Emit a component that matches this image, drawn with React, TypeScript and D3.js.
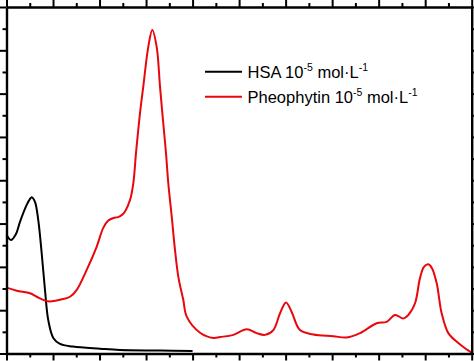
import React, { useEffect, useRef } from "react";
import * as d3 from "d3";

// wavelength (nm) / absorbance
const hsaWl = [250, 254.8, 260.2, 264.5, 271.7, 275.3, 277.1, 280.6, 284.2, 287.8, 291.4, 294.9, 300.3, 307.5, 321.5, 350.5, 372, 415, 450];
const hsaAbs = [2.74, 2.62, 2.76, 3.04, 3.43, 3.57, 3.61, 3.5, 3.07, 2.32, 1.46, 0.77, 0.36, 0.22, 0.16, 0.11, 0.08, 0.07, 0.06];

const pheoWl = [250, 261, 275.3, 282.5, 291.4, 296.8, 307.5, 318.2, 325.5, 336.2, 347, 354, 359.4, 365, 370, 374.1, 377.4, 382.7, 386.3, 389.2, 393.5, 397, 402.4, 406.7, 411.4, 415, 417.5, 421.4, 423.9, 427.6, 431.1, 434.7, 440, 443.7, 458, 472.3, 479.5, 493.8, 508.2, 518.9, 527.8, 536.8, 544, 550.4, 556.5, 565.4, 579.7, 601.2, 615.6, 629.9, 647.9, 658.6, 667.6, 676.5, 681.9, 689.1, 694.4, 698.7, 703.4, 707.3, 712.4, 717.7, 724.9, 735.6, 742.8, 750];
const pheoAbs = [1.52, 1.45, 1.39, 1.31, 1.22, 1.2, 1.24, 1.31, 1.47, 1.93, 2.47, 2.9, 3.07, 3.13, 3.15, 3.2, 3.28, 3.54, 3.93, 4.63, 5.55, 6.16, 7.08, 7.47, 7.08, 6.16, 5.55, 4.63, 3.93, 3.16, 2.39, 1.77, 1.24, 0.85, 0.48, 0.36, 0.38, 0.43, 0.56, 0.47, 0.43, 0.54, 0.93, 1.18, 0.96, 0.54, 0.44, 0.4, 0.37, 0.47, 0.7, 0.73, 0.89, 0.81, 0.89, 1.16, 1.74, 2.0, 2.06, 1.97, 1.62, 0.93, 0.47, 0.24, 0.12, 0.02];

const legendLabels = ["HSA", "Pheophytin"];

export default function App() {
  const svgRef = useRef<SVGSVGElement>(null);

  useEffect(() => {
    const svg = d3.select(svgRef.current);
    svg.selectAll("*").remove();

    const x = d3.scaleLinear().domain([250, 750]).range([6.5, 471.7]);
    const y = d3.scaleLinear().domain([0, 8]).range([353.5, 7]);

    const line = d3.line<[number, number]>()
      .x(d => x(d[0]))
      .y(d => y(d[1]))
      .curve(d3.curveCatmullRom.alpha(0.5));

    const hsa = hsaWl.map((w, i) => [w, hsaAbs[i]] as [number, number]);
    const pheo = pheoWl.map((w, i) => [w, pheoAbs[i]] as [number, number]);

    svg.append("path").datum(hsa)
      .attr("d", line).attr("fill", "none")
      .attr("stroke", "#000").attr("stroke-width", 2);
    svg.append("path").datum(pheo)
      .attr("d", line).attr("fill", "none")
      .attr("stroke", "#e8070d").attr("stroke-width", 2);

    // frame with outward ticks, no labels
    const xMajor = d3.range(250, 751, 50);
    const xMinor = d3.range(275, 750, 50);
    const yMajor = d3.range(0, 8.01, 1);
    const yMinor = d3.range(0.5, 8, 1);

    const axes: [any, string][] = [
      [d3.axisBottom(x), `translate(0,${y(0)})`],
      [d3.axisTop(x), `translate(0,${y(8)})`],
      [d3.axisLeft(y), `translate(${x(250)},0)`],
      [d3.axisRight(y), `translate(${x(750)},0)`],
    ];
    axes.forEach(([ax, tr], i) => {
      const isX = i < 2;
      const g = svg.append("g").attr("transform", tr);
      g.call(ax.tickValues(isX ? xMajor : yMajor).tickSize(7).tickSizeOuter(0).tickFormat(() => ""));
      const gm = svg.append("g").attr("transform", tr);
      gm.call(ax.tickValues(isX ? xMinor : yMinor).tickSize(4).tickSizeOuter(0).tickFormat(() => ""));
      gm.select(".domain").remove();
    });
    svg.selectAll("g path.domain").attr("stroke-width", 2.4);
    svg.selectAll("g .tick line").attr("stroke-width", 2);

    // legend
    const lg = svg.append("g");
    const colors = ["#000", "#e8070d"];
    legendLabels.forEach((lab, i) => {
      const ly = 71.7 + i * 25;
      lg.append("line")
        .attr("x1", 205).attr("x2", 242)
        .attr("y1", ly).attr("y2", ly)
        .attr("stroke", colors[i]).attr("stroke-width", 2);
      const t = lg.append("text")
        .attr("x", 247.5).attr("y", ly + 6.5)
        .attr("font-family", "'Liberation Sans', Arial, sans-serif")
        .attr("font-size", 16.5).attr("fill", "#000");
      t.append("tspan").text(`${lab} 10`);
      t.append("tspan").attr("font-size", 10.5).attr("dy", -7.5).text("-5");
      t.append("tspan").attr("dy", 7.5).text(" mol\u00b7L");
      t.append("tspan").attr("font-size", 10.5).attr("dy", -7.5).text("-1");
    });
  }, []);

  return (
    <svg ref={svgRef} width={474} height={361}
      style={{ position: "absolute", left: 0, top: 0, background: "#fff" }} />
  );
}
